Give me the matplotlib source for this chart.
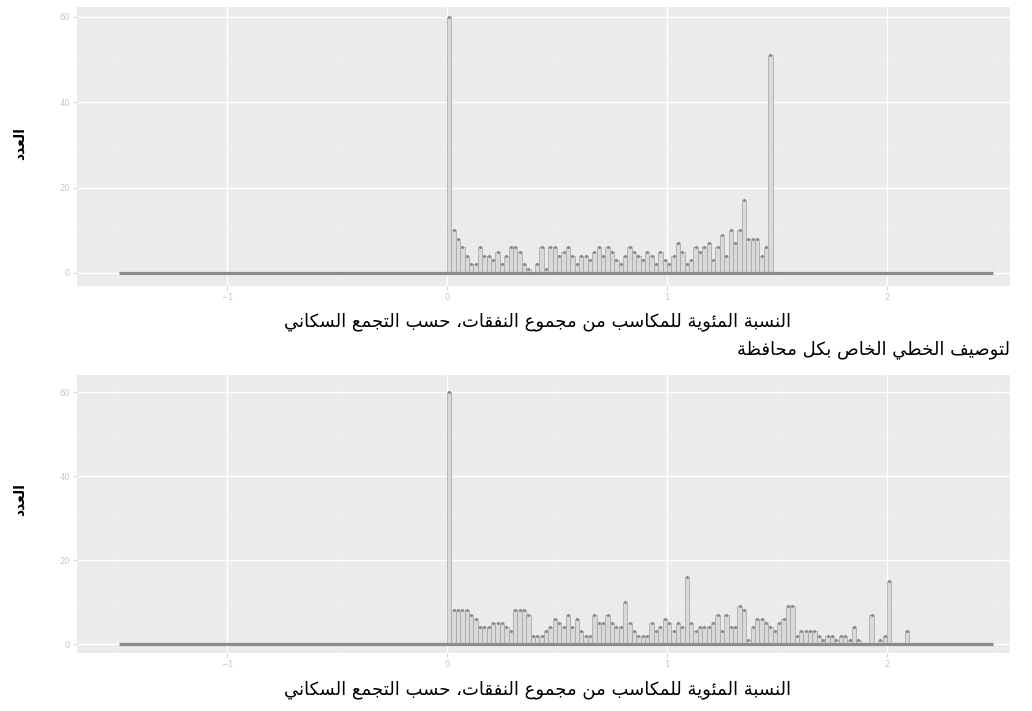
import numpy as np
import matplotlib
matplotlib.use('Agg')
import matplotlib.pyplot as plt

# bin counts (bin width 0.02, first bin at 0)
bin_width = 0.02
counts_top = [60, 10, 8, 6, 4, 2, 2, 6, 4, 4, 3, 5, 2, 4, 6, 6, 5, 2, 1, 0,
              2, 6, 1, 6, 6, 4, 5, 6, 4, 2, 4, 4, 3, 5, 6, 4, 6, 5, 3, 2,
              4, 6, 5, 4, 3, 5, 4, 2, 5, 3, 2, 4, 7, 5, 2, 3, 6, 5, 6, 7,
              3, 6, 9, 4, 10, 7, 10, 17, 8, 8, 8, 4, 6, 51]
counts_bottom = [60, 8, 8, 8, 8, 7, 6, 4, 4, 4, 5, 5, 5, 4, 3, 8, 8, 8, 7, 2,
                 2, 2, 3, 4, 6, 5, 4, 7, 4, 6, 3, 2, 2, 7, 5, 5, 7, 5, 4, 4,
                 10, 5, 3, 2, 2, 2, 5, 3, 4, 6, 5, 3, 5, 4, 16, 5, 3, 4, 4, 4,
                 5, 7, 3, 7, 4, 4, 9, 8, 1, 4, 6, 6, 5, 4, 3, 5, 6, 9, 9, 2,
                 3, 3, 3, 3, 2, 1, 2, 2, 1, 2, 2, 1, 4, 1, 0, 0, 7, 0, 1, 2,
                 15, 0, 0, 0, 3]
# full range of the data (empty bins drawn flat at zero)
data_min = -1.49
data_max = 2.48

x_ticks = [-1, 0, 1, 2]
y_ticks = [0, 20, 40, 60]

xlabel = 'النسبة المئوية للمكاسب من مجموع النفقات، حسب التجمع السكاني'
subtitle = 'لتوصيف الخطي الخاص بكل محافظة'
ylabel = 'العدد'

# tiny arabic shaper: presentation forms + right-to-left order
AR_DUAL = {'ب': 0xFE8F, 'ت': 0xFE95, 'ج': 0xFE9D, 'ح': 0xFEA1, 'خ': 0xFEA5,
           'س': 0xFEB1, 'ص': 0xFEB9, 'ط': 0xFEC1, 'ظ': 0xFEC5, 'ع': 0xFEC9,
           'ف': 0xFED1, 'ق': 0xFED5, 'ك': 0xFED9, 'ل': 0xFEDD, 'م': 0xFEE1,
           'ن': 0xFEE5, 'ي': 0xFEF1, 'ئ': 0xFE89}
AR_RIGHT = {'ا': 0xFE8D, 'ة': 0xFE93, 'د': 0xFEA9, 'و': 0xFEED}


def ar(s):
    out = []
    for i, c in enumerate(s):
        if c not in AR_DUAL and c not in AR_RIGHT:
            out.append(c)
            continue
        prev = s[i - 1] if i > 0 else ''
        nxt = s[i + 1] if i + 1 < len(s) else ''
        jp = prev in AR_DUAL
        jn = c in AR_DUAL and (nxt in AR_DUAL or nxt in AR_RIGHT)
        base = AR_DUAL.get(c, AR_RIGHT.get(c))
        if jp and jn:
            off = 3
        elif jp:
            off = 1
        elif jn:
            off = 2
        else:
            off = 0
        out.append(chr(base + off))
    return ''.join(out[::-1])


plt.rcParams['font.family'] = ['DejaVu Sans']

fig = plt.figure(figsize=(10.32, 7.11), dpi=100)
ax1 = fig.add_axes([77/1032, 1-286/711, 933/1032, 279/711])
ax2 = fig.add_axes([77/1032, 1-653/711, 933/1032, 278/711])


def draw(ax, counts, ylim):
    counts = np.array(counts)
    left = np.arange(len(counts)) * bin_width
    ax.set_facecolor('#ebebeb')
    ax.set_axisbelow(True)
    ax.bar(left, counts, width=bin_width, align='edge', color='#d9d9d9',
           edgecolor='#a3a3a3', linewidth=0.5, zorder=3)
    ax.plot([data_min, data_max], [0, 0], color='#8c8c8c', lw=2.3,
            solid_capstyle='butt', zorder=4)
    ax.scatter(left + bin_width/2, counts, s=5, color='#8a8a8a', zorder=5,
               linewidths=0)
    ax.set_xlim(-1.682, 2.559)
    ax.set_ylim(*ylim)
    ax.set_xticks(x_ticks)
    ax.set_yticks(y_ticks)
    ax.set_xticks([-1.5, -0.5, 0.5, 1.5, 2.5], minor=True)
    ax.set_yticks([10, 30, 50], minor=True)
    ax.grid(which='major', color='white', lw=1.0)
    ax.grid(which='minor', color='#f3f3f3', lw=0.5)
    for s in ax.spines.values():
        s.set_visible(False)
    ax.tick_params(which='major', length=3, color='#d8d8d8', labelsize=6,
                   labelcolor='#c8c8c8', pad=2)
    ax.tick_params(which='minor', length=0)


draw(ax1, counts_top, (-3.05, 62.3))
draw(ax2, counts_bottom, (-2.14, 64.05))

fig.text(537/1032, 1-322/711, ar(xlabel), ha='center', va='center',
         fontsize=13, color='black')
fig.text(1010/1032, 1-350/711, ar(subtitle), ha='right', va='center',
         fontsize=13, color='black')
fig.text(537/1032, 1-690/711, ar(xlabel), ha='center', va='center',
         fontsize=13, color='black')
fig.text(20/1032, 1-143/711, ar(ylabel), rotation=90, ha='center',
         va='center', fontsize=10, fontweight='bold')
fig.text(20/1032, 1-500/711, ar(ylabel), rotation=90, ha='center',
         va='center', fontsize=10, fontweight='bold')

fig.savefig('out.png', dpi=100)
